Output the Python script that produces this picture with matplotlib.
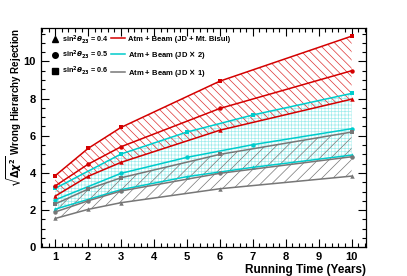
import matplotlib
matplotlib.use("Agg")
import matplotlib.pyplot as plt
from matplotlib.lines import Line2D
from matplotlib.ticker import MultipleLocator

plt.rcParams["font.family"] = ["Liberation Sans", "DejaVu Sans"]
plt.rcParams["font.weight"] = "bold"
plt.rcParams["mathtext.fontset"] = "dejavusans"
plt.rcParams["hatch.linewidth"] = 0.5

# Atm + Beam (JD + Mt. Bisul)
red_years = [1, 2, 3, 6, 10]
red_s06 = [3.85, 5.32, 6.45, 8.94, 11.36]
red_s05 = [3.30, 4.47, 5.41, 7.47, 9.50]
red_s04 = [2.75, 3.82, 4.57, 6.30, 7.97]

# Atm + Beam (JD x 2)
cyan_years = [1, 3, 5, 7, 10]
cyan_s06 = [3.17, 5.02, 6.20, 7.12, 8.28]
cyan_s05 = [2.55, 3.98, 4.84, 5.52, 6.38]
cyan_s04 = [2.05, 3.10, 3.80, 4.30, 4.96]

# Atm + Beam (JD x 1)
gray_years = [1, 2, 3, 6, 10]
gray_s06 = [2.33, 3.13, 3.74, 5.00, 6.20]
gray_s05 = [1.90, 2.50, 3.03, 3.98, 4.87]
gray_s04 = [1.55, 2.04, 2.40, 3.15, 3.83]

theta_labels = [r"sin$^2\theta_{23}$ = 0.4", r"sin$^2\theta_{23}$ = 0.5", r"sin$^2\theta_{23}$ = 0.6"]
config_labels = ["Atm + Beam (JD + Mt. Bisul)", "Atm + Beam (JD $\\times$ 2)", "Atm + Beam (JD $\\times$ 1)"]

RED = "#d40000"
CYAN = "#00cccc"
GRAY = "#777777"

fig = plt.figure(figsize=(4.07, 2.76), dpi=100)
ax = fig.add_axes([0.1007, 0.104, 0.798, 0.7946])

# bands
ax.fill_between(cyan_years, cyan_s04, cyan_s06, facecolor="none",
                edgecolor="#a0ecec", hatch="+++++", linewidth=0)
ax.fill_between(red_years, red_s04, red_s06, facecolor="none",
                edgecolor="#dd3333", hatch="\\\\\\\\", linewidth=0)
ax.fill_between(gray_years, gray_s04, gray_s06, facecolor="none",
                edgecolor=GRAY, hatch="///", linewidth=0)

series = [
    (cyan_years, [cyan_s04, cyan_s05, cyan_s06], CYAN),
    (gray_years, [gray_s04, gray_s05, gray_s06], GRAY),
    (red_years, [red_s04, red_s05, red_s06], RED),
]
markers = ["^", "o", "s"]
for years, values, color in series:
    for vals, mk in zip(values, markers):
        ax.plot(years, vals, color=color, lw=1.1, marker=mk, ms=3.2,
                markeredgewidth=0)

ax.set_xlim(0.57, 10.43)
ax.set_ylim(0, 11.8)
ax.xaxis.set_major_locator(MultipleLocator(1))
ax.xaxis.set_minor_locator(MultipleLocator(0.2))
ax.yaxis.set_minor_locator(MultipleLocator(0.5))
ax.set_yticks([0, 2, 4, 6, 8, 10])
ax.tick_params(which="both", direction="in", top=True, right=True,
               labelsize=8, width=0.8)
ax.tick_params(which="major", length=6)
ax.tick_params(which="minor", length=3)
for lab in ax.get_xticklabels() + ax.get_yticklabels():
    lab.set_fontweight("bold")
for sp in ax.spines.values():
    sp.set_linewidth(0.9)

ax.set_xlabel("Running Time (Years)", loc="right", fontsize=8.5,
              fontweight="bold", labelpad=1)
ax.set_ylabel(r"$\sqrt{\Delta\chi^2}$ Wrong Hierarchy Rejection", loc="top",
              fontsize=7, fontweight="bold")
ax.yaxis.set_label_coords(-0.053, 1.0)

marker_handles = [Line2D([], [], color="black", marker=mk, ms=4, lw=0)
                  for mk in markers]
leg1 = ax.legend(marker_handles, theta_labels, loc="upper left",
                 bbox_to_anchor=(0.015, 1.0), frameon=False,
                 handlelength=1.0, handletextpad=0.6, labelspacing=0.45,
                 borderaxespad=0.3,
                 prop={"weight": "bold", "size": 5.2})
ax.add_artist(leg1)
line_handles = [Line2D([], [], color=c, lw=1.1) for c in (RED, CYAN, GRAY)]
ax.legend(line_handles, config_labels, loc="upper left",
          bbox_to_anchor=(0.2, 0.99), frameon=False,
          handlelength=1.8, handletextpad=0.4, labelspacing=0.8,
          borderaxespad=0.3,
          prop={"weight": "bold", "size": 5.5})

fig.savefig("out.png", dpi=100)
